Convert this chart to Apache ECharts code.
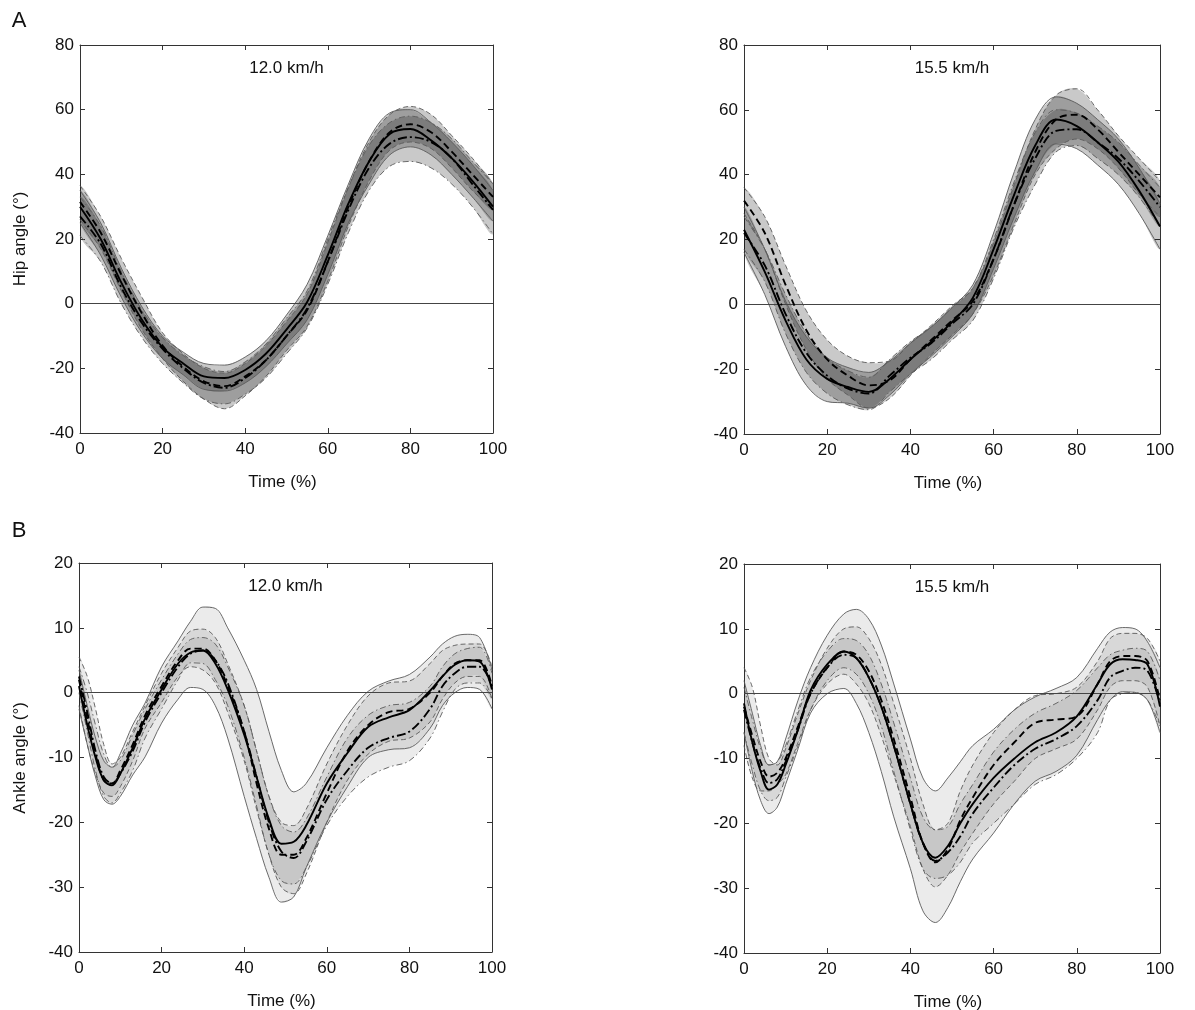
<!DOCTYPE html>
<html><head><meta charset="utf-8">
<script src="https://cdn.jsdelivr.net/npm/echarts@6/dist/echarts.min.js"></script>
<style>html,body{margin:0;padding:0;background:#fff}#c{width:1195px;height:1010px}</style>
</head><body><div id="c"></div>
<script>
// ---------- DATA ----------
const hipTime = [0,5,10,15,20,25,30,35,40,45,50,55,60,65,70,75,80,85,90,95,100];
const ankleTime = [0,2,4,6,8,10,13,16,20,24,27,30,33,36,40,43,46,49,52,55,60,65,70,75,80,85,88,91,94,97,100];

// Hip angle, 12.0 km/h
const hip12SolidMean   = [30,20,6.5,-5,-13.5,-18.5,-22.5,-23,-20.5,-15.5,-8,0.5,15,31,44,52.5,54,50.5,45,38,30];
const hip12SolidUpper  = [35,25,11,-1,-10,-15,-18.5,-19,-16.5,-11.5,-3.5,6,21,37,51,59,60,56,50,43,35];
const hip12SolidLower  = [25,15,2,-9,-17,-22,-26.5,-27,-24.5,-19.5,-12.5,-5,9,25,37,46,48.5,46,40,33,25.5];
const hip12DashMean    = [31.5,22,9,-3,-13,-19.5,-24,-25.5,-22.5,-17.5,-10,-2,13,30,44,53,55.5,53,47,40,33];
const hip12DashUpper   = [36.5,27,14,2,-9,-15.5,-20,-21.5,-18.5,-13,-5.5,3,19,36,50,58.5,61,58.5,52,45,37];
const hip12DashLower   = [26,17,4,-8,-17,-24,-29.5,-32.5,-28.5,-22.5,-14.5,-7,7,24,38,47.5,50,48,42,35,29];
const hip12DotMean     = [27,18.5,5,-6,-14,-20,-24.5,-26,-23,-17.5,-10,-1.5,13,29,42,49.5,51.5,50,45,37,29];
const hip12DotUpper    = [33,24,10,-2,-10.5,-16,-19.5,-21,-18,-12.5,-4.5,4,20,36,49,56,58,56,51,44,37];
const hip12DotLower    = [21,13,0,-10.5,-18.5,-24.5,-29.5,-31,-28,-23,-15.5,-7.5,6,22,35,42.5,44,42,37,30,21.5];

// Hip angle, 15.5 km/h
const hip15SolidMean   = [23,10,-5,-17,-23,-25.5,-27,-23,-17,-11.5,-5.5,2,17,34,49,57,55,50,44,35,24];
const hip15SolidUpper  = [30,17,1,-10,-16.5,-19.5,-21,-17.5,-12,-7,-1,6,22,41,57,64,62,57,51,42,31];
const hip15SolidLower  = [16,3,-13,-25,-30,-30.5,-32,-28,-21.5,-16,-10,-3,11,27,41,49.5,48,43,37,28,17];
const hip15DashMean    = [32,22,6,-8,-17,-22,-25,-23.5,-17,-11,-5,1,14,31,47,57,58.5,54,47,40,33];
const hip15DashUpper   = [36,27,12,-2,-11,-16,-18,-17.5,-12,-6.5,-0.5,5,19,37,54,64.5,66.5,60,52,45,38];
const hip15DashLower   = [28,17,0,-14,-23,-28,-32,-29,-22,-15.5,-9.5,-3,9,25,40,48,51,48,42,34,27];
const hip15DotMean     = [22,12,-3,-15,-22,-26,-27.5,-22,-16.5,-12,-6,0,14,31,45,53.5,54,50,45,38,30];
const hip15DotUpper    = [27,17,3,-9,-16.5,-20.5,-22.5,-17,-11.5,-7,-1,5,20,38,53,60,59,55,50,43,36];
const hip15DotLower    = [17,7,-9,-21,-27.5,-31,-32.5,-27,-21.5,-17,-11,-5,8,24,37,47,49,45,40,33,24];

// Ankle angle, 12.0 km/h
const ank12SolidMean   = [1,-5,-10,-13.5,-14.3,-12.5,-8.5,-4,0.5,4.5,6.2,6.5,4.5,0.5,-6.5,-13,-19.5,-23.3,-23,-20.5,-14,-9.3,-5.3,-3.8,-2.7,0.3,2.5,4.3,5,4.8,0.5];
const ank12SolidUpper  = [3.5,-2,-7,-10.5,-11.5,-9.4,-5,-1.6,4,8,11,13.2,13,10,5,0.5,-6,-12,-15.3,-14,-8.5,-3.5,0.2,1.8,2.8,5.5,7.5,8.7,9,8.5,3.5];
const ank12SolidLower  = [-2.5,-8,-13,-16.5,-17.2,-16,-12.7,-9.9,-4.7,-1,0.8,0.5,-2,-7,-16,-22.5,-28.5,-32.3,-31.5,-27,-20,-14.5,-10,-8.8,-8.5,-5.5,-2,0,0.8,0.5,-2.5];
const ank12DashMean    = [2,-4,-9.5,-13.5,-14,-12,-8,-3.5,1,5,6.8,6.8,5,1,-6,-14,-21,-25,-25,-22.5,-15.5,-9,-5,-3,-2.5,0,2.5,4.5,5,5,1];
const ank12DashUpper   = [5.5,2.5,-2.5,-8,-11,-10,-6,-2,3,7,9.5,9.8,8.5,4.5,-2,-9,-16,-20,-20.5,-18,-11,-5,-0.5,1.5,1.8,4.5,6.5,7.3,7.5,7.5,4];
const ank12DashLower   = [-2,-8,-12.5,-15.5,-16,-14.5,-10.5,-5.5,-1.5,2.5,4,3.5,1.5,-3,-10.5,-18,-25,-30,-31,-28,-20,-13.5,-9.5,-7.5,-7,-4.5,-1,1.5,2.5,2.5,-1];
const ank12DotMean     = [2.5,-3,-9,-13,-14,-12.5,-9,-4.5,0,4,6,6.5,5,1.5,-6,-13,-20,-24.5,-25.5,-23,-16.5,-12,-8.5,-7,-6,-2.5,1,3,4,4,1];
const ank12DotUpper    = [4,0,-5,-9.5,-11.5,-10.5,-6.5,-2.5,2,6,8.2,8.5,7.5,4,-2,-9,-16,-20.5,-21.5,-19.5,-13,-7,-3.5,-2,-1.5,1,4,6,6.8,7,3];
const ank12DotLower    = [0,-6,-12,-16,-17,-15.5,-12,-7,-2.5,2,4.6,4.5,2,-2,-10,-17.5,-25,-29,-29.5,-27,-20.5,-16,-13,-11.5,-10.5,-7,-3,0.5,1.5,1.5,-1];

// Ankle angle, 15.5 km/h
const ank15SolidMean   = [-1.5,-7.5,-12,-14.8,-14,-11,-5.5,0.5,4.5,6.5,5.5,2.5,-2,-8,-17,-23,-25.3,-23.5,-20,-17,-13,-10,-7.5,-6,-3.5,1.5,4.5,5.3,5.2,4.5,-2];
const ank15SolidUpper  = [2,-3,-8,-11,-10.5,-7,-1,4,9,12.3,13,11.5,7.5,1.5,-7,-13,-15,-13,-10.5,-8,-5.5,-2.5,-0.5,0.8,2.5,7,9.5,10.2,10,8,4];
const ank15SolidLower  = [-6,-12,-16.5,-18.5,-17.5,-14,-8.5,-3,0,0.8,-1.5,-6,-12,-19,-27,-33.5,-35.3,-33,-29,-25.5,-21.5,-17,-13.5,-12,-9.5,-4,-1,0.3,0.2,-1,-6];
const ank15DashMean    = [-2,-6.5,-10.5,-12.8,-12.2,-10,-5,0,4,6.5,6,3.5,-1,-7,-16,-23,-26,-24,-19.5,-16,-11,-7.5,-4.5,-4,-3.5,1.5,5,5.8,5.8,5,-1];
const ank15DashUpper   = [4,1,-5,-10,-11,-8.5,-3,2,7,10,10.3,8.5,4.5,-1.5,-10,-17,-21,-20,-15,-11,-6,-2.5,-0.3,0,1,5,8.5,9.3,9.3,8.5,5];
const ank15DashLower   = [-8,-13,-15,-15,-14,-12.5,-7.5,-2.5,1.5,3,1.5,-1.5,-6.5,-12.5,-20.5,-27,-29.8,-28,-24.5,-21.5,-17,-13.5,-10,-8.5,-7,-2.5,1,2,2,1,-5];
const ank15DotMean     = [-2.5,-7.5,-11.5,-13.8,-13.2,-10.5,-5.5,0,4,6,5.5,2.5,-2,-8,-17,-23,-25.8,-24.5,-22,-18.5,-14.5,-11,-8.5,-7,-5,-1,2.5,3.5,4,3.5,-1.5];
const ank15DotUpper    = [1,-4,-8.5,-11,-10.5,-8,-2.5,2.5,6.5,8.5,8.2,6,1.5,-4.5,-13,-19,-21,-20.5,-17,-14,-9,-5.5,-3,-1.5,0.5,4,6,6.7,7,6.5,2];
const ank15DotLower    = [-6,-11,-15,-16.5,-16,-13,-8,-2.5,2,4,3,0,-5,-12,-21,-27,-28.5,-28,-26,-23,-20,-17,-14,-12.5,-10,-6,-1,0,0.2,-1,-5];

const hipTicks = {min:-40, max:80, interval:20};
const ankleTicks = {min:-40, max:20, interval:10};

// ---------- CHART ----------
const FONT = "'Liberation Sans', Arial, sans-serif";
const SM = 0.35;
const FS = 17;
const LINE_STYLES = {
  solid:   {mean:'solid',      bound:'solid'},
  dashed:  {mean:[7,4],        bound:[5,3]},
  dashdot: {mean:[9,3,2,3],    bound:[6,3,1.5,3]}
};
const panels = [
  {time:hipTime, ticks:hipTicks, fill:0.21, title:'12.0 km/h',
   grid:{left:80, top:45, width:413, height:388},
   curves:[
     {kind:'solid',   mean:hip12SolidMean, upper:hip12SolidUpper, lower:hip12SolidLower},
     {kind:'dashed',  mean:hip12DashMean,  upper:hip12DashUpper,  lower:hip12DashLower},
     {kind:'dashdot', mean:hip12DotMean,   upper:hip12DotUpper,   lower:hip12DotLower}]},
  {time:hipTime, ticks:hipTicks, fill:0.21, title:'15.5 km/h',
   grid:{left:744, top:45, width:416, height:389},
   curves:[
     {kind:'solid',   mean:hip15SolidMean, upper:hip15SolidUpper, lower:hip15SolidLower},
     {kind:'dashed',  mean:hip15DashMean,  upper:hip15DashUpper,  lower:hip15DashLower},
     {kind:'dashdot', mean:hip15DotMean,   upper:hip15DotUpper,   lower:hip15DotLower}]},
  {time:ankleTime, ticks:ankleTicks, fill:0.08, title:'12.0 km/h',
   grid:{left:79, top:563, width:413, height:389},
   curves:[
     {kind:'solid',   mean:ank12SolidMean, upper:ank12SolidUpper, lower:ank12SolidLower},
     {kind:'dashed',  mean:ank12DashMean,  upper:ank12DashUpper,  lower:ank12DashLower},
     {kind:'dashdot', mean:ank12DotMean,   upper:ank12DotUpper,   lower:ank12DotLower}]},
  {time:ankleTime, ticks:ankleTicks, fill:0.08, title:'15.5 km/h',
   grid:{left:744, top:564, width:416, height:389},
   curves:[
     {kind:'solid',   mean:ank15SolidMean, upper:ank15SolidUpper, lower:ank15SolidLower},
     {kind:'dashed',  mean:ank15DashMean,  upper:ank15DashUpper,  lower:ank15DashLower},
     {kind:'dashdot', mean:ank15DotMean,   upper:ank15DotUpper,   lower:ank15DotLower}]}
];

const grids = [], xAxes = [], yAxes = [], series = [], graphics = [];
const N = panels.length;
const axColor = '#333';

// band drawn once (at item 0) as one translucent polygon through the axis scales
function makeBandRender(rows, fillColor) {
  return function (params, api) {
    if (params.dataIndex !== 0) return null;
    const top = rows.map(r => api.coord([r[0], r[2]]));
    const bot = rows.map(r => api.coord([r[0], r[1]])).reverse();
    const cs = params.coordSys;
    return {
      type:'polygon',
      shape:{points: top.concat(bot), smooth: SM},
      style:{fill: fillColor, stroke: null},
      clipPath:{type:'rect', shape:{x:cs.x, y:cs.y, width:cs.width, height:cs.height}}
    };
  };
}

panels.forEach((p, pi) => {
  grids.push(Object.assign({containLabel:false}, p.grid));
  const tick = {show:true, inside:true, length:5, lineStyle:{color:axColor, width:1}};
  const aline = {show:true, onZero:false, lineStyle:{color:axColor, width:1}};
  const lab = {fontSize:FS, color:'#111', fontFamily:FONT};
  xAxes[pi] = {gridIndex:pi, type:'value', min:0, max:100, interval:20, position:'bottom',
    axisLine:aline, axisTick:tick, splitLine:{show:false}, axisLabel:Object.assign({margin:8}, lab)};
  xAxes[N+pi] = {gridIndex:pi, type:'value', min:0, max:100, interval:20, position:'top',
    axisLine:aline, axisTick:tick, splitLine:{show:false}, axisLabel:{show:false}};
  yAxes[pi] = {gridIndex:pi, type:'value', min:p.ticks.min, max:p.ticks.max, interval:p.ticks.interval, position:'left',
    axisLine:aline, axisTick:tick, splitLine:{show:false}, axisLabel:Object.assign({margin:6}, lab)};
  yAxes[N+pi] = {gridIndex:pi, type:'value', min:p.ticks.min, max:p.ticks.max, interval:p.ticks.interval, position:'right',
    axisLine:aline, axisTick:tick, splitLine:{show:false}, axisLabel:{show:false}};

  const common = {type:'line', xAxisIndex:pi, yAxisIndex:pi, symbol:'none', smooth:SM, silent:true, animation:false};
  p.curves.forEach((c) => {
    const rows = p.time.map((t,i)=>[t, c.lower[i], c.upper[i]]);
    series.push({type:'custom', xAxisIndex:pi, yAxisIndex:pi, silent:true, animation:false, z:1,
      data: rows, encode:{x:0, y:[1,2]},
      renderItem: makeBandRender(rows, 'rgba(0,0,0,' + p.fill + ')')});
  });
  p.curves.forEach((c) => {
    ['upper','lower'].forEach(k => {
      series.push(Object.assign({}, common, {z:3,
        data:p.time.map((t,i)=>[t, c[k][i]]),
        lineStyle:{color:'#5a5a5a', width:0.9, type:LINE_STYLES[c.kind].bound}}));
    });
  });
  p.curves.forEach((c, ci) => {
    const s = Object.assign({}, common, {z:5,
      data:p.time.map((t,i)=>[t, c.mean[i]]),
      lineStyle:{color:'#000', width:1.9, type:LINE_STYLES[c.kind].mean}});
    if (ci === 0) {
      s.markLine = {silent:true, symbol:['none','none'], label:{show:false}, animation:false,
        lineStyle:{color:'#444', width:1, type:'solid'}, data:[{yAxis:0}]};
    }
    series.push(s);
  });

  const g = p.grid;
  graphics.push({type:'text', x:g.left + g.width/2, y:g.top + 23, z:100,
    style:{text:p.title, font:FS + 'px ' + FONT, fill:'#111', align:'center', verticalAlign:'middle',
           textAlign:'center', textVerticalAlign:'middle'}});
  graphics.push({type:'text', x:g.left + g.width/2 - 4, y:g.top + g.height + 49, z:100,
    style:{text:'Time (%)', font:FS + 'px ' + FONT, fill:'#111', align:'center', verticalAlign:'middle',
           textAlign:'center', textVerticalAlign:'middle'}});
});

graphics.push({type:'text', x:20, y:239, rotation:Math.PI/2, z:100,
  style:{text:'Hip angle (°)', font:FS + 'px ' + FONT, fill:'#111', align:'center', verticalAlign:'middle',
         textAlign:'center', textVerticalAlign:'middle'}});
graphics.push({type:'text', x:20, y:758, rotation:Math.PI/2, z:100,
  style:{text:'Ankle angle (°)', font:FS + 'px ' + FONT, fill:'#111', align:'center', verticalAlign:'middle',
         textAlign:'center', textVerticalAlign:'middle'}});
graphics.push({type:'text', x:19, y:21, z:100,
  style:{text:'A', font:'22px ' + FONT, fill:'#111', align:'center', verticalAlign:'middle',
         textAlign:'center', textVerticalAlign:'middle'}});
graphics.push({type:'text', x:19, y:531, z:100,
  style:{text:'B', font:'22px ' + FONT, fill:'#111', align:'center', verticalAlign:'middle',
         textAlign:'center', textVerticalAlign:'middle'}});

const chart = echarts.init(document.getElementById('c'), null, {renderer:'canvas'});
chart.setOption({
  animation:false,
  backgroundColor:'#fff',
  textStyle:{fontFamily:FONT},
  grid:grids, xAxis:xAxes, yAxis:yAxes, series:series, graphic:graphics
});
</script></body></html>
